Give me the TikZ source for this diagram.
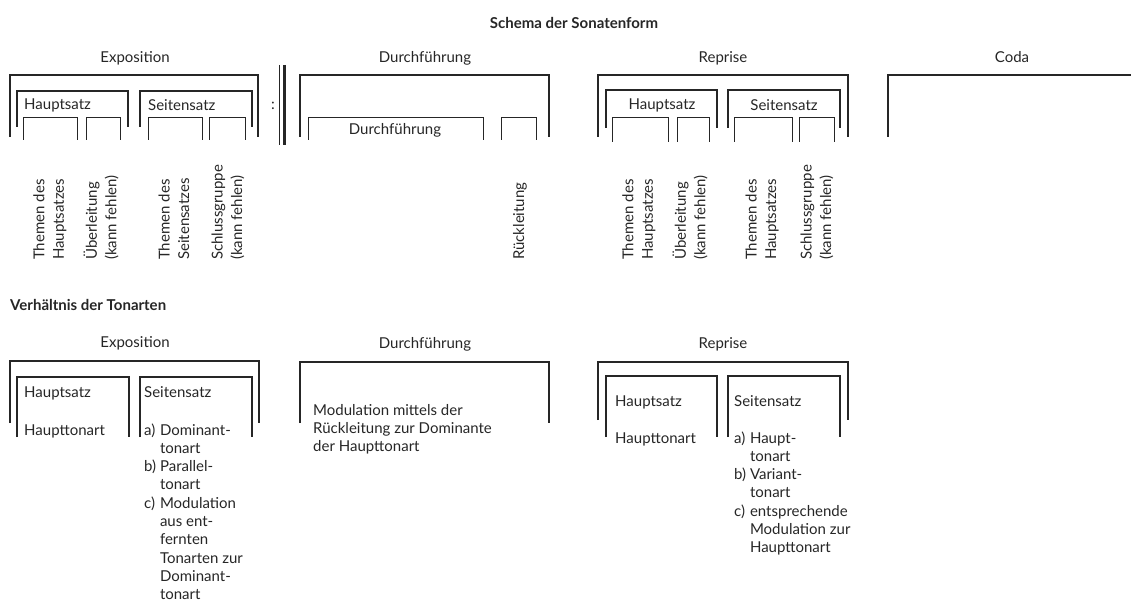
\documentclass[tikz,border=0pt]{standalone}
\usepackage{fontspec}
\setmainfont{Lato}
\usepackage{tikz}
\usetikzlibrary{positioning}

\begin{document}
\begin{tikzpicture}[x=1pt, y=-1pt, every node/.style={inner sep=0pt, font=\fontsize{15}{18.3}\selectfont, text=black!85},
  outer/.style={draw=black!85, line width=1.5pt},
  mid/.style={draw=black!85, line width=1.1pt},
  inner/.style={draw=black!85, line width=0.8pt},
  vtext/.style={rotate=90, anchor=west, align=left, font=\fontsize{15}{19.5}\selectfont},
  head/.style={font=\fontsize{15}{18.3}\selectfont\bfseries}]
  \useasboundingbox (0,0) rectangle (1131,604);
  % Schema der Sonatenform
  \node[head] (title) at (574,23) {Schema der Sonatenform};
  \node (expo) at (135,58) {Exposition};
  \node (durch) at (425,58) {Durchführung};
  \node (rep) at (723,58) {Reprise};
  \node (coda) at (1012,57) {Coda};
  \path[outer]
  (10,137) |- (258,75) -- (258,137)
  (300,137) |- (549,75) -- (549,137)
  (598,137) |- (848,75) -- (848,137)
  (888,137) |- (1135,75);
  \path[mid]
  (17,127) |- (128,91) -- (128,127)
  (140,127) |- (252,91) -- (252,127)
  (606,128) |- (717,90) -- (717,128)
  (728,128) |- (840,90) -- (840,128);
  \path[inner]
  (23,140) |- (77,117) -- (77,140)
  (86,140) |- (120,117) -- (120,140)
  (148,140) |- (202,117) -- (202,140)
  (209,140) |- (245,117) -- (245,140)
  (308,140) |- (483,117) -- (483,140)
  (501,140) |- (536,117) -- (536,140)
  (612,142) |- (668,117) -- (668,142)
  (677,142) |- (709,117) -- (709,142)
  (734,142) |- (792,117) -- (792,142)
  (799,142) |- (834,117) -- (834,142);
  % Wiederholung
  \node (colon) at (273,106) {:};
  \draw[black!85, line width=0.9pt] (279,65) -- (279,145);
  \draw[black!85, line width=2.6pt] (284.5,65) -- (284.5,145);
  \node[anchor=west] (hs1) at (24,105) {Hauptsatz};
  \node[anchor=west] (ss1) at (148,105) {Seitensatz};
  \node (hs2) at (662,105) {Hauptsatz};
  \node (ss2) at (784,105) {Seitensatz};
  \node (df) at (395,130) {Durchführung};
  \node[vtext] (th1) at (50,260) {Themen des\\Hauptsatzes};
  \node[vtext] (ue1) at (101,260) {Überleitung\\(kann fehlen)};
  \node[vtext] (th2) at (174,260) {Themen des\\Seitensatzes};
  \node[vtext] (sg1) at (228,260) {Schlussgruppe\\(kann fehlen)};
  \node[vtext] (rl) at (520,260) {Rückleitung};
  \node[vtext] (th3) at (639,260) {Themen des\\Hauptsatzes};
  \node[vtext] (ue2) at (690,260) {Überleitung\\(kann fehlen)};
  \node[vtext] (th4) at (762,260) {Themen des\\Hauptsatzes};
  \node[vtext] (sg2) at (817,260) {Schlussgruppe\\(kann fehlen)};
  % Verhaeltnis der Tonarten
  \node[head, anchor=west] (title2) at (10,305) {Verhältnis der Tonarten};
  \node (expo2) at (135,343) {Exposition};
  \node (durch2) at (425,344) {Durchführung};
  \node (rep2) at (723,344) {Reprise};
  \path[outer]
  (10,423) |- (259,361) -- (259,423)
  (300,423) |- (549,362) -- (549,423)
  (598,420) |- (848,362) -- (848,420);
  \path[mid]
  (17,437) |- (129,377) -- (129,437)
  (140,437) |- (252,377) -- (252,437)
  (606,437) |- (717,376) -- (717,437)
  (728,437) |- (840,376) -- (840,437);
  \node[anchor=base west] (hs3) at (24,397) {Hauptsatz};
  \node[anchor=base west] (ht1) at (24,435) {Haupttonart};
  \node[anchor=base west] (ss3) at (144,397) {Seitensatz};
  \node[anchor=base west] (ta1) at (144,435) {\begin{tabular}[t]{@{}l@{\ }l@{}}
    a) & Dominant-\\ & tonart\\
    b) & Parallel-\\ & tonart\\
    c) & Modulation\\ & aus ent-\\ & fernten\\ & Tonarten zur\\ & Dominant-\\ & tonart
  \end{tabular}};
  \node[anchor=base west] (mod) at (313,415) {\begin{tabular}[t]{@{}l@{}}
    Modulation mittels der\\ Rückleitung zur Dominante\\ der Haupttonart
  \end{tabular}};
  \node[anchor=base west] (hs4) at (615,406) {Hauptsatz};
  \node[anchor=base west] (ht2) at (615,443) {Haupttonart};
  \node[anchor=base west] (ss4) at (734,406) {Seitensatz};
  \node[anchor=base west] (ta2) at (734,443) {\begin{tabular}[t]{@{}l@{\ }l@{}}
    a) & Haupt-\\ & tonart\\
    b) & Variant-\\ & tonart\\
    c) & entsprechende\\ & Modulation zur\\ & Haupttonart
  \end{tabular}};
\end{tikzpicture}
\end{document}
